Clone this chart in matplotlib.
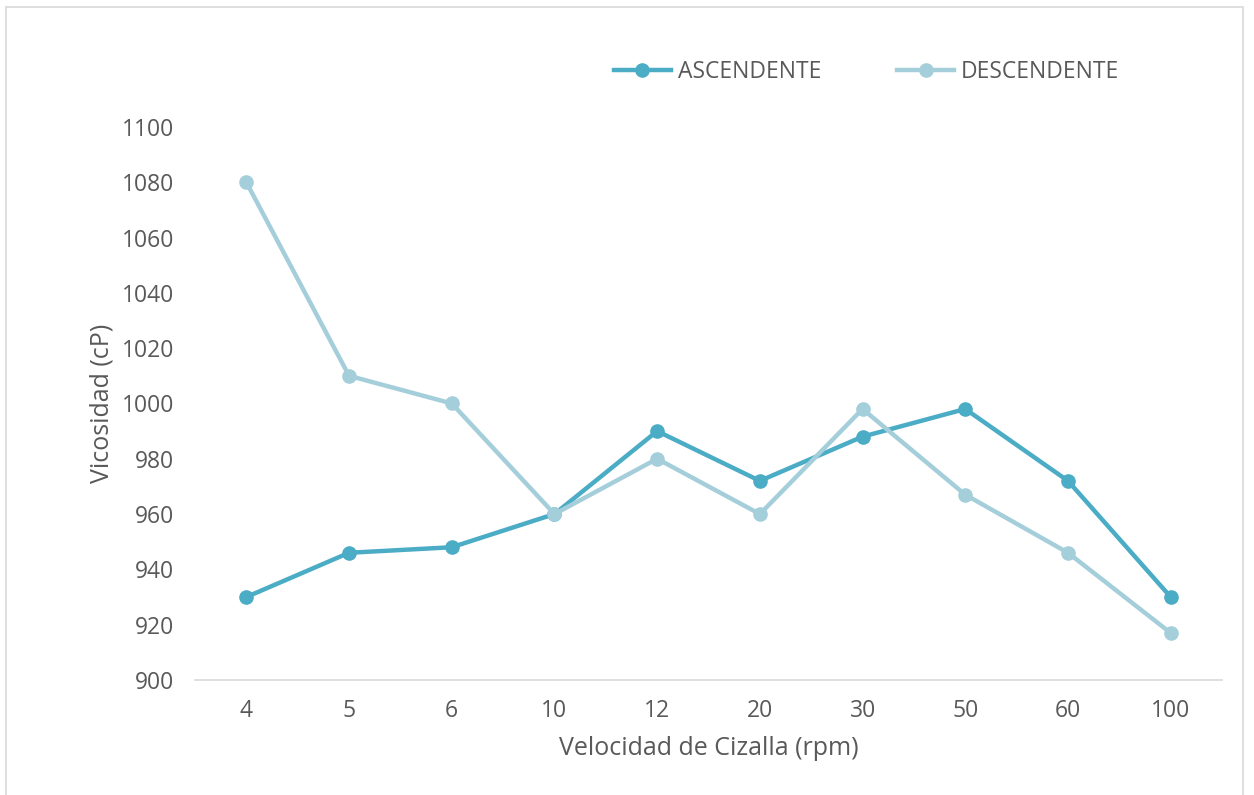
import matplotlib.pyplot as plt
from matplotlib.patches import Rectangle

plt.rcParams['font.family'] = ['Open Sans', 'DejaVu Sans']

# datos
velocidad = ['4', '5', '6', '10', '12', '20', '30', '50', '60', '100']
ascendente = [930, 946, 948, 960, 990, 972, 988, 998, 972, 930]
descendente = [1080, 1010, 1000, 960, 980, 960, 998, 967, 946, 917]

gris = '#595959'

fig = plt.figure(figsize=(12.54, 7.95), dpi=100)
ax = fig.add_axes([0.1555, 0.1447, 0.819, 0.6956])

x = range(len(velocidad))
ax.plot(x, ascendente, color='#4BACC6', lw=3.2, marker='o', ms=9.5, label='ASCENDENTE')
ax.plot(x, descendente, color='#A5CEDB', lw=3.2, marker='o', ms=9.5, label='DESCENDENTE')

ax.set_xlim(-0.5, len(velocidad) - 0.5)
ax.set_ylim(900, 1100)
ax.set_yticks(range(900, 1101, 20))
ax.set_xticks(list(x))
ax.set_xticklabels(velocidad)

for s in ['top', 'right', 'left']:
    ax.spines[s].set_visible(False)
ax.spines['bottom'].set_color('#D9D9D9')
ax.spines['bottom'].set_linewidth(1.2)
ax.tick_params(axis='both', length=0, labelsize=16.5, labelcolor=gris)
ax.tick_params(axis='y', pad=15)
ax.tick_params(axis='x', pad=14)

ax.set_xlabel('Velocidad de Cizalla (rpm)', fontsize=18, color=gris, labelpad=9)
ax.set_ylabel('Vicosidad (cP)', fontsize=18, color=gris, labelpad=5)

fig.legend(loc='center', bbox_to_anchor=(0.691, 0.909), ncol=2, frameon=False,
           fontsize=16.5, labelcolor=gris, handlelength=2.5, columnspacing=3.3,
           handletextpad=0.3)

# borde del area del grafico
fig.patches.append(Rectangle((6 / 1254, -0.01), 1237 / 1254, 1 - 7 / 795 + 0.01,
                             transform=fig.transFigure, fill=False,
                             edgecolor='#D9D9D9', lw=1.2))

fig.savefig('out.png', dpi=100)
